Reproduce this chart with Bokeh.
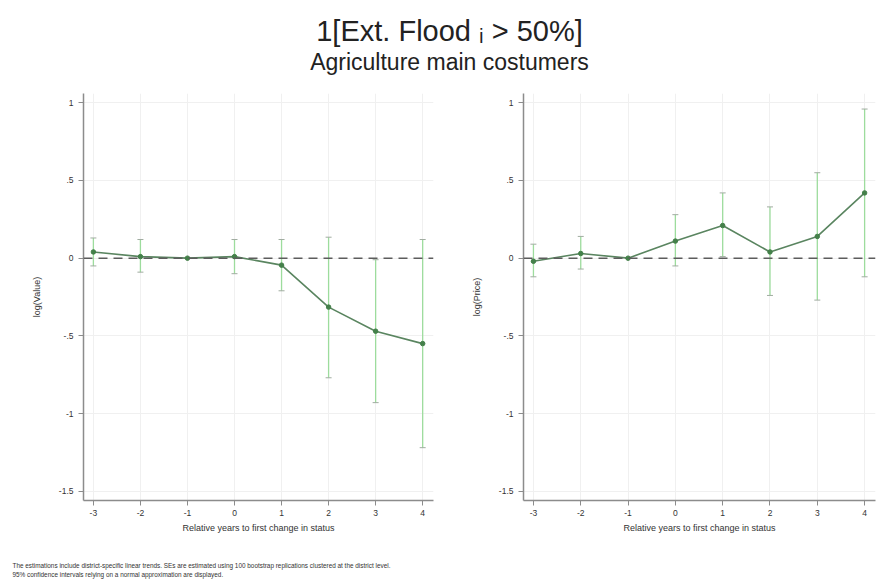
from bokeh.plotting import figure
from bokeh.layouts import column, row
from bokeh.models import (ColumnDataSource, Whisker, TeeHead, Span, FixedTicker,
                          Label)
from bokeh.embed import file_html
from bokeh.resources import INLINE

# ---------------- data ----------------
rel_years = [-3, -2, -1, 0, 1, 2, 3, 4]

value_est = [0.04, 0.01, 0.0, 0.01, -0.045, -0.315, -0.47, -0.55]
value_lo = [-0.05, -0.09, 0.0, -0.10, -0.21, -0.77, -0.93, -1.22]
value_hi = [0.13, 0.12, 0.0, 0.12, 0.12, 0.135, -0.01, 0.12]

price_est = [-0.02, 0.03, 0.0, 0.11, 0.21, 0.04, 0.14, 0.42]
price_lo = [-0.12, -0.07, 0.0, -0.05, 0.01, -0.24, -0.27, -0.12]
price_hi = [0.09, 0.14, 0.0, 0.28, 0.42, 0.33, 0.55, 0.96]

y_ticks = [-1.5, -1.0, -0.5, 0.0, 0.5, 1.0]
y_tick_labels = ["-1.5", "-1", "-.5", "0", ".5", "1"]
x_tick_labels = ["-3", "-2", "-1", "0", "1", "2", "3", "4"]

title_text = "1[Ext. Flood \u1d62 > 50%]"
subtitle_text = "Agriculture main costumers"
x_label = "Relative years to first change in status"
note_lines = [
    "The estimations include district-specific linear trends. SEs are estimated using 100 bootstrap replications clustered at the district level.",
    "95% confidence intervals relying on a normal approximation are displayed.",
]

FONT = "Liberation Sans"
CI_COLOR = "#9ddc9d"
LINE_COLOR = "#5a8560"
MARK_COLOR = "#44804a"
AXIS_COLOR = "#8c8c8c"
GRID_COLOR = "#f0f0f0"
CAP_COLOR = "#a0aca0"


def panel(est, lo, hi, ylab, width, left, right):
    p = figure(width=width, height=452, x_range=(-3.21, 4.23), y_range=(-1.56, 1.06),
               output_backend="svg", toolbar_location=None,
               min_border_left=left, min_border_right=right,
               min_border_top=0, min_border_bottom=45)
    p.outline_line_color = None
    p.background_fill_color = "white"
    p.border_fill_color = "white"

    src = ColumnDataSource(dict(x=rel_years, est=est, lo=lo, hi=hi))

    w = Whisker(base="x", upper="hi", lower="lo", source=src,
                line_color=CI_COLOR, line_width=1.3,
                upper_head=TeeHead(size=6, line_color=CAP_COLOR, line_width=1),
                lower_head=TeeHead(size=6, line_color=CAP_COLOR, line_width=1))
    p.add_layout(w)

    p.add_layout(Span(location=0, dimension="width", line_color="#5c5c5c",
                      line_width=1.5, line_dash="9 6"))

    p.line("x", "est", source=src, line_color=LINE_COLOR, line_width=1.6)
    p.scatter("x", "est", source=src, size=4.5, fill_color=MARK_COLOR,
              line_color=MARK_COLOR)

    # axes
    p.xaxis.ticker = FixedTicker(ticks=rel_years)
    p.xaxis.major_label_overrides = {t: l for t, l in zip(rel_years, x_tick_labels)}
    p.yaxis.ticker = FixedTicker(ticks=y_ticks)
    p.yaxis.major_label_overrides = {t: l for t, l in zip(y_ticks, y_tick_labels)}
    for ax in (p.xaxis[0], p.yaxis[0]):
        ax.axis_line_color = AXIS_COLOR
        ax.axis_line_width = 1.5
        ax.major_tick_line_color = AXIS_COLOR
        ax.major_tick_line_width = 1
        ax.major_tick_out = 5
        ax.major_tick_in = 0
        ax.minor_tick_line_color = None
        ax.major_label_text_font = FONT
        ax.major_label_text_color = "#333333"
        ax.major_label_text_font_size = "8.5px"
        ax.axis_label_text_font = FONT
        ax.axis_label_text_font_style = "normal"
        ax.axis_label_text_color = "#333333"
        ax.axis_label_text_font_size = "9px"
    p.yaxis.major_label_orientation = "horizontal"
    p.xaxis.axis_label = x_label
    p.yaxis.axis_label = ylab
    p.xaxis.major_label_standoff = 4
    p.yaxis.major_label_standoff = 5
    p.yaxis.axis_label_standoff = 14
    p.xaxis.axis_label_standoff = 4

    p.xgrid.ticker = FixedTicker(ticks=rel_years)
    p.ygrid.ticker = FixedTicker(ticks=y_ticks)
    p.xgrid.grid_line_color = GRID_COLOR
    p.ygrid.grid_line_color = GRID_COLOR
    return p


p1 = panel(value_est, value_lo, value_hi, "log(Value)", 440, 83, 7)
p2 = panel(price_est, price_lo, price_hi, "log(Price)", 437, 83, 2)

# header with titles
head = figure(width=877, height=93, output_backend="svg", toolbar_location=None,
              min_border=0, x_range=(0, 1), y_range=(0, 1))
head.axis.visible = False
head.grid.visible = False
head.outline_line_color = None
head.add_layout(Label(x=449, y=93 - 30, x_units="screen", y_units="screen",
                      text=title_text, text_font=FONT, text_font_size="29px",
                      text_color="#222222", text_align="center",
                      text_baseline="middle"))
head.add_layout(Label(x=449, y=93 - 61, x_units="screen", y_units="screen",
                      text=subtitle_text, text_font=FONT, text_font_size="23px",
                      text_color="#222222", text_align="center",
                      text_baseline="middle"))

# footer notes
foot = figure(width=877, height=43, output_backend="svg", toolbar_location=None,
              min_border=0, x_range=(0, 1), y_range=(0, 1))
foot.axis.visible = False
foot.grid.visible = False
foot.outline_line_color = None
for i, t in enumerate(note_lines):
    foot.add_layout(Label(x=12, y=43 - 20 - 9 * i, x_units="screen", y_units="screen",
                          text=t, text_font=FONT, text_font_size="6.4px",
                          text_color="#333333", text_baseline="middle"))

layout = column(head, row(p1, p2), foot)
open("out.html", "w").write(file_html(layout, INLINE))
